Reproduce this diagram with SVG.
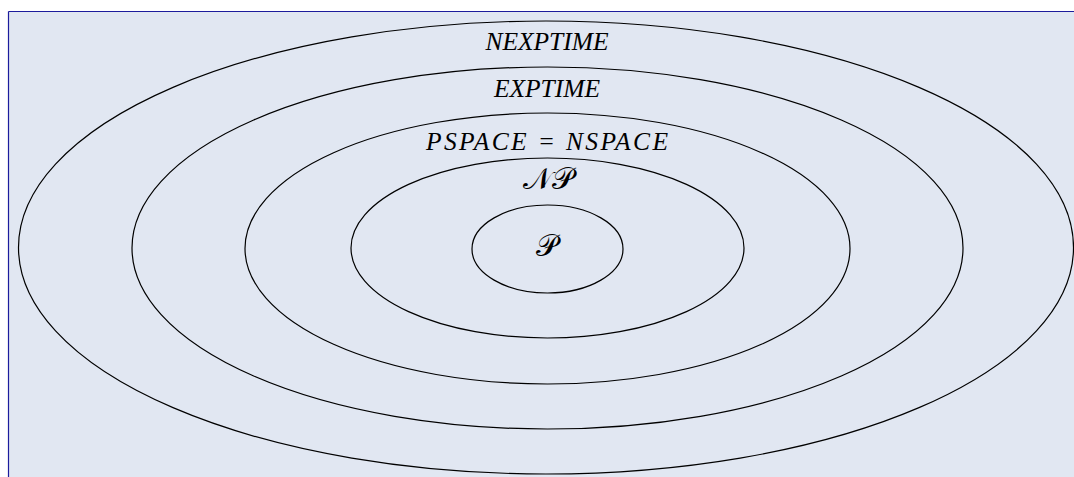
<svg xmlns="http://www.w3.org/2000/svg" width="1074" height="477" viewBox="0 0 1074 477">
  <style>
    .ring { fill: none; stroke: #000; stroke-width: 1.2; }
    .lbl { font-family: "Liberation Serif", "Times New Roman", serif; font-style: italic; font-size: 25.5px; fill: #000; text-anchor: middle; }
    .cal { font-family: "DejaVu Serif", "DejaVu Sans", "Liberation Serif", serif; font-size: 30px; font-weight: normal; fill: #000; text-anchor: middle; }
  </style>
  <rect x="0" y="0" width="1074" height="477" fill="#ffffff"/>
  <rect x="8.5" y="11.5" width="1070" height="470" fill="#e1e7f2"/>
  <g id="frame" stroke="#1c1c9c" stroke-width="1.2" fill="none">
    <line x1="8.5" y1="11.5" x2="1074" y2="11.5"/>
    <line x1="8.5" y1="11.5" x2="8.5" y2="477"/>
  </g>
  <g id="nexptime">
    <ellipse class="ring" cx="546" cy="247.5" rx="527.5" ry="226.5"/>
    <text class="lbl" x="547" y="50">NEXPTIME</text>
  </g>
  <g id="exptime">
    <ellipse class="ring" cx="547.5" cy="248" rx="415.5" ry="181"/>
    <text class="lbl" x="547" y="97">EXPTIME</text>
  </g>
  <g id="pspace">
    <ellipse class="ring" cx="547.5" cy="248.5" rx="302.5" ry="135.5"/>
    <text class="lbl" x="547" y="150" textLength="242" lengthAdjust="spacing">PSPACE = NSPACE</text>
  </g>
  <g id="np">
    <ellipse class="ring" cx="547.5" cy="248" rx="196.5" ry="90"/>
    <text class="cal" x="548" y="189">𝒩𝒫</text>
  </g>
  <g id="p">
    <ellipse class="ring" cx="547.5" cy="249" rx="75.5" ry="44"/>
    <text class="cal" x="547" y="256">𝒫</text>
  </g>
  <g id="connectors"/>
</svg>
